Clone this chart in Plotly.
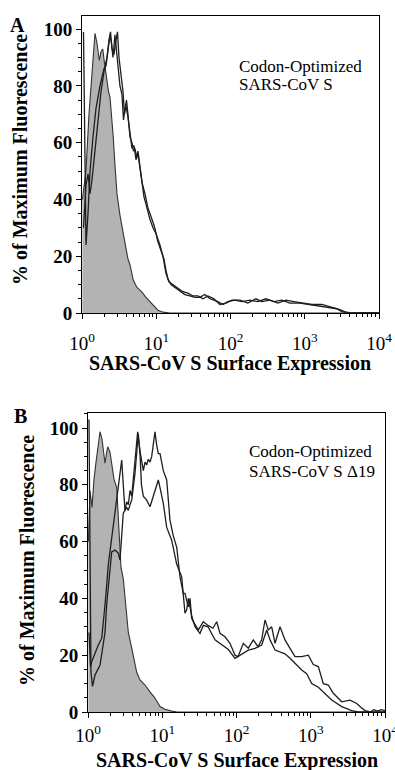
import numpy as np
import plotly.graph_objects as go

# ---------------- Panel A : Codon-Optimized SARS-CoV S ----------------
# fluorescence positions given in log10 decades, values in % of maximum
a_ctrl_log = [0.005, 0.054, 0.094, 0.135, 0.175, 0.202, 0.233, 0.256, 0.279, 0.303, 0.332, 0.357,
              0.377, 0.404, 0.421, 0.444, 0.471, 0.511, 0.552, 0.579, 0.619, 0.646, 0.690, 0.740,
              0.803, 0.861, 0.915, 0.969, 1.023, 1.090, 1.184, 4.0]
a_ctrl_pct = [40, 50, 70, 85, 98.5, 95, 89, 92, 93, 88, 81.5, 78,
              76, 68, 62, 52, 42, 34.5, 28, 24, 19, 17, 11.6, 9,
              7.5, 5.5, 4, 2.5, 1, 0.3, 0, 0]

a_s1_log = [0.020, 0.040, 0.054, 0.081, 0.108, 0.148, 0.188, 0.242, 0.296, 0.323, 0.350, 0.377,
            0.397, 0.417, 0.444, 0.464, 0.485, 0.511, 0.538, 0.559, 0.579, 0.599, 0.619, 0.646,
            0.673, 0.693, 0.713, 0.734, 0.754, 0.781, 0.808, 0.834, 0.875, 0.915, 0.956, 0.996,
            1.023, 1.063, 1.104, 1.131, 1.157, 1.198, 1.252, 1.319, 1.386, 1.454, 1.521, 1.588,
            1.655, 1.723, 1.830, 1.898, 1.965, 2.059, 2.153, 2.261, 2.369, 2.476, 2.584, 2.692,
            2.799, 2.934, 3.069, 3.203, 3.338, 3.432, 3.499, 3.607, 3.997]
a_s1_pct = [99, 60, 24, 35, 50, 62, 72, 80, 86, 87, 92, 98,
            95, 90, 98, 92, 86, 80, 77, 68, 72, 75, 70, 62,
            60, 57, 58, 55, 57, 52, 47, 41, 37, 33, 30, 28,
            25, 22, 19, 15, 12, 10, 9, 8, 6.5, 6, 5.5, 5.5,
            6.5, 5, 4, 3, 4, 4.5, 4, 4.5, 4, 5, 4, 4.5,
            3.5, 3.5, 3, 2.5, 2, 1.5, 0.5, 0, 0]

a_s2_log = [0.020, 0.054, 0.081, 0.108, 0.135, 0.175, 0.215, 0.256, 0.296, 0.336, 0.363, 0.384,
            0.404, 0.431, 0.458, 0.478, 0.498, 0.525, 0.552, 0.572, 0.592, 0.619, 0.646, 0.673,
            0.700, 0.727, 0.754, 0.781, 0.808, 0.848, 0.888, 0.929, 0.969, 1.009, 1.050, 1.090,
            1.131, 1.171, 1.225, 1.292, 1.359, 1.427, 1.494, 1.561, 1.629, 1.696, 1.777, 1.857,
            1.938, 2.019, 2.127, 2.234, 2.342, 2.423, 2.530, 2.638, 2.746, 2.853, 2.961, 3.096,
            3.230, 3.365, 3.472, 3.553, 3.634, 3.997]
a_s2_pct = [30, 45, 49, 42, 47, 58, 68, 78, 85, 90, 96, 99,
            93, 91, 96, 99, 90, 84, 78, 70, 73, 69, 64, 58,
            59, 54, 56, 50, 46, 42, 37, 34, 31, 27, 24, 20,
            14, 11, 10, 8.5, 7.5, 7, 6, 6, 5, 6, 5, 3,
            3.5, 4.5, 4.5, 3.5, 5, 4, 4.5, 3.5, 4.5, 4, 3.5, 3,
            3, 2, 1.2, 0.3, 0, 0]

# ---------------- Panel B : Codon-Optimized SARS-CoV S delta19 ----------------
b_ctrl_log = [0.005, 0.027, 0.054, 0.081, 0.108, 0.135, 0.162, 0.189, 0.209, 0.229, 0.249, 0.265,
              0.296, 0.323, 0.350, 0.387, 0.408, 0.444, 0.475, 0.498, 0.521, 0.543, 0.589, 0.624,
              0.656, 0.700, 0.768, 0.835, 0.902, 0.970, 1.037, 1.127, 1.200, 4.0]
b_ctrl_pct = [60, 78, 72, 82, 88, 94, 98.7, 96, 92, 87.6, 91, 93.4,
              91.5, 87, 82, 79, 67.6, 51, 47, 40, 31.8, 28, 22.5, 17.7,
              14, 11.3, 9.5, 7.1, 4.9, 1.9, 1, 0.3, 0, 0]

b_s1_log = [0.013, 0.027, 0.040, 0.061, 0.094, 0.162, 0.206, 0.229, 0.252, 0.273, 0.296, 0.319,
            0.364, 0.408, 0.431, 0.454, 0.475, 0.498, 0.521, 0.543, 0.566, 0.589, 0.610, 0.633,
            0.669, 0.700, 0.720, 0.745, 0.768, 0.790, 0.812, 0.835, 0.858, 0.902, 0.925, 0.947,
            0.970, 1.014, 1.060, 1.104, 1.149, 1.195, 1.239, 1.283, 1.306, 1.329, 1.351, 1.374,
            1.396, 1.418, 1.486, 1.553, 1.616, 1.683, 1.733, 1.778, 1.845, 1.912, 1.980, 2.020,
            2.092, 2.159, 2.226, 2.290, 2.339, 2.384, 2.429, 2.474, 2.519, 2.586, 2.653, 2.721,
            2.788, 2.878, 2.967, 3.034, 3.102, 3.169, 3.236, 3.304, 3.417, 3.529, 3.619, 3.686,
            3.731, 3.800, 3.850, 3.900, 3.950, 4.0]
b_s1_pct = [103, 60, 14, 9, 13, 16.5, 23.6, 28, 38, 44.7, 51.8, 56.4,
            57, 56, 53.5, 62, 70, 71, 74, 73, 78, 76, 81.7, 87.6,
            98.7, 92, 88.7, 85, 88, 87, 89, 88, 90, 98.7, 94, 91,
            91, 85, 81.7, 67.6, 62, 58, 47.6, 41.8, 41.8, 39, 37, 40,
            33, 31.8, 28.9, 31.8, 30.5, 29.5, 31.8, 27.7, 26.5, 24.2, 20, 19.5,
            24.2, 22.5, 25.4, 23, 25.4, 32.4, 28.9, 30, 24.2, 30, 25.4, 22.4,
            19.5, 19.5, 20, 16.7, 16, 10, 9.5, 6.6, 3.6, 4.2, 3, 1.4,
            0.5, 0, 0.8, 0.3, 0.8, 0.5]

b_s2_log = [0.013, 0.034, 0.050, 0.094, 0.139, 0.185, 0.206, 0.229, 0.252, 0.273, 0.323, 0.364,
            0.408, 0.454, 0.475, 0.498, 0.521, 0.543, 0.566, 0.589, 0.633, 0.677, 0.700, 0.720,
            0.745, 0.790, 0.835, 0.880, 0.947, 0.970, 1.014, 1.060, 1.127, 1.195, 1.262, 1.306,
            1.329, 1.351, 1.396, 1.441, 1.508, 1.553, 1.616, 1.710, 1.801, 1.890, 1.980, 2.070,
            2.159, 2.249, 2.339, 2.407, 2.452, 2.519, 2.586, 2.653, 2.721, 2.788, 2.878, 2.945,
            3.013, 3.102, 3.192, 3.282, 3.417, 3.551, 3.640, 4.0]
b_s2_pct = [28, 16, 17.7, 21, 23.6, 26, 30.6, 37.7, 44.7, 51.8, 62, 70,
            80, 88.7, 80, 71, 72, 71, 73, 74.6, 84, 98, 91, 80,
            76, 74.6, 72.3, 76, 81.7, 79, 73.5, 65, 60.5, 52, 47.6, 34.8,
            36, 40, 34, 30, 27.7, 30.5, 30, 25.4, 23.6, 22, 18.9, 20.5,
            21.8, 22.4, 23.6, 28.9, 25.4, 21.8, 21.2, 20.5, 18.9, 17.1, 14.8, 13.5,
            10, 8.7, 6.6, 4.2, 1.9, 0.5, 0, 0]

x_tick_vals = [1, 10, 100, 1000, 10000]
x_tick_text = ["10<sup>0</sup>", "10<sup>1</sup>", "10<sup>2</sup>", "10<sup>3</sup>", "10<sup>4</sup>"]
x_minor_vals = [m * 10 ** k for k in range(4) for m in range(2, 10)]

panel_labels = ["A", "B"]
inset_line1 = ["Codon-Optimized", "Codon-Optimized"]
inset_line2 = ["SARS-CoV S", "SARS-CoV S Δ19"]
x_title = "SARS-CoV S Surface Expression"
y_title = "% of Maximum Fluorescence"

FONT = "Liberation Serif"
W, H = 395, 770
LINE = "#1e1e1e"
FILL = "#b3b3b3"

fig = go.Figure()


def add_panel(ax, ay, ctrl_log, ctrl_pct, s1_log, s1_pct, s2_log, s2_pct):
    fig.add_trace(go.Scatter(x=10 ** np.array(ctrl_log), y=ctrl_pct, mode="lines",
                             line=dict(color="#333333", width=1.1), fill="tozeroy",
                             fillcolor=FILL, xaxis=ax, yaxis=ay, showlegend=False,
                             hoverinfo="skip"))
    for lg, pc in ((s1_log, s1_pct), (s2_log, s2_pct)):
        fig.add_trace(go.Scatter(x=10 ** np.array(lg), y=pc, mode="lines",
                                 line=dict(color=LINE, width=1.3),
                                 xaxis=ax, yaxis=ay, showlegend=False, hoverinfo="skip"))


add_panel("x", "y", a_ctrl_log, a_ctrl_pct, a_s1_log, a_s1_pct, a_s2_log, a_s2_pct)
add_panel("x2", "y2", b_ctrl_log, b_ctrl_pct, b_s1_log, b_s1_pct, b_s2_log, b_s2_pct)


def xaxis_cfg(domain, anchor, standoff):
    return dict(type="log", range=[0, 4], domain=domain, anchor=anchor, automargin=False,
                tickvals=x_tick_vals, ticktext=x_tick_text, ticks="outside", ticklen=5,
                tickwidth=1, tickcolor="black", showline=True, linecolor="black",
                linewidth=1, mirror=True, showgrid=False, zeroline=False,
                ticklabelstandoff=standoff, ticklabeloverflow="allow",
                minor=dict(tickvals=x_minor_vals, ticks="outside", ticklen=3,
                           tickcolor="black", tickwidth=1, showgrid=False),
                tickfont=dict(family=FONT, size=19, color="black"))


def yaxis_cfg(domain, anchor, top):
    return dict(range=[0, top], domain=domain, anchor=anchor, automargin=False,
                tick0=0, dtick=20, ticklabeloverflow="allow",
                ticks="outside", ticklen=5, tickwidth=1, tickcolor="black",
                showline=True, linecolor="black", linewidth=1, mirror=True,
                showgrid=False, zeroline=False,
                minor=dict(dtick=5, tick0=0, ticks="outside", ticklen=3,
                           tickcolor="black", tickwidth=1, showgrid=False),
                tickfont=dict(family=FONT, size=19, color="black", weight="bold"))


fig.update_layout(
    width=W, height=H, autosize=False,
    margin=dict(l=0, r=0, t=0, b=0, pad=0, autoexpand=False),
    paper_bgcolor="white", plot_bgcolor="white",
    font=dict(family=FONT, color="black"),
    xaxis=xaxis_cfg([82 / W, 379 / W], "y", 8),
    yaxis=yaxis_cfg([1 - 313 / H, 1 - 16 / H], "x", 104.6),
    xaxis2=xaxis_cfg([88 / W, 385 / W], "y2", 1),
    yaxis2=yaxis_cfg([1 - 712 / H, 1 - 413 / H], "x2", 105.3),
)

ann = []
# panel letters
for lab, (px, py) in zip(panel_labels, [(17.5, 25), (20, 416)]):
    ann.append(dict(text=f"<b>{lab}</b>", x=px / W, y=1 - py / H, xref="paper", yref="paper",
                    showarrow=False, xanchor="center", yanchor="middle",
                    font=dict(family=FONT, size=20, color="black")))
# y titles
for px, py in [(20, 160), (27, 561)]:
    ann.append(dict(text=f"<b>{y_title}</b>", x=px / W, y=1 - py / H, xref="paper", yref="paper",
                    showarrow=False, textangle=-90, xanchor="center", yanchor="middle",
                    font=dict(family=FONT, size=20, color="black")))
# x titles
for px, py in [(230, 364), (236.5, 760)]:
    ann.append(dict(text=f"<b>{x_title}</b>", x=px / W, y=1 - py / H, xref="paper", yref="paper",
                    showarrow=False, xanchor="center", yanchor="middle",
                    font=dict(family=FONT, size=20, color="black")))
# inset texts
for l1, l2, (px, py1, py2) in zip(inset_line1, inset_line2, [(237, 66, 85), (247, 451, 471)]):
    for txt, py in ((l1, py1), (l2, py2)):
        ann.append(dict(text=txt, x=px / W, y=1 - py / H, xref="paper", yref="paper",
                        showarrow=False, xanchor="left", yanchor="middle",
                        font=dict(family=FONT, size=17, color="black")))
fig.update_layout(annotations=ann)

fig.write_html("out.html")
